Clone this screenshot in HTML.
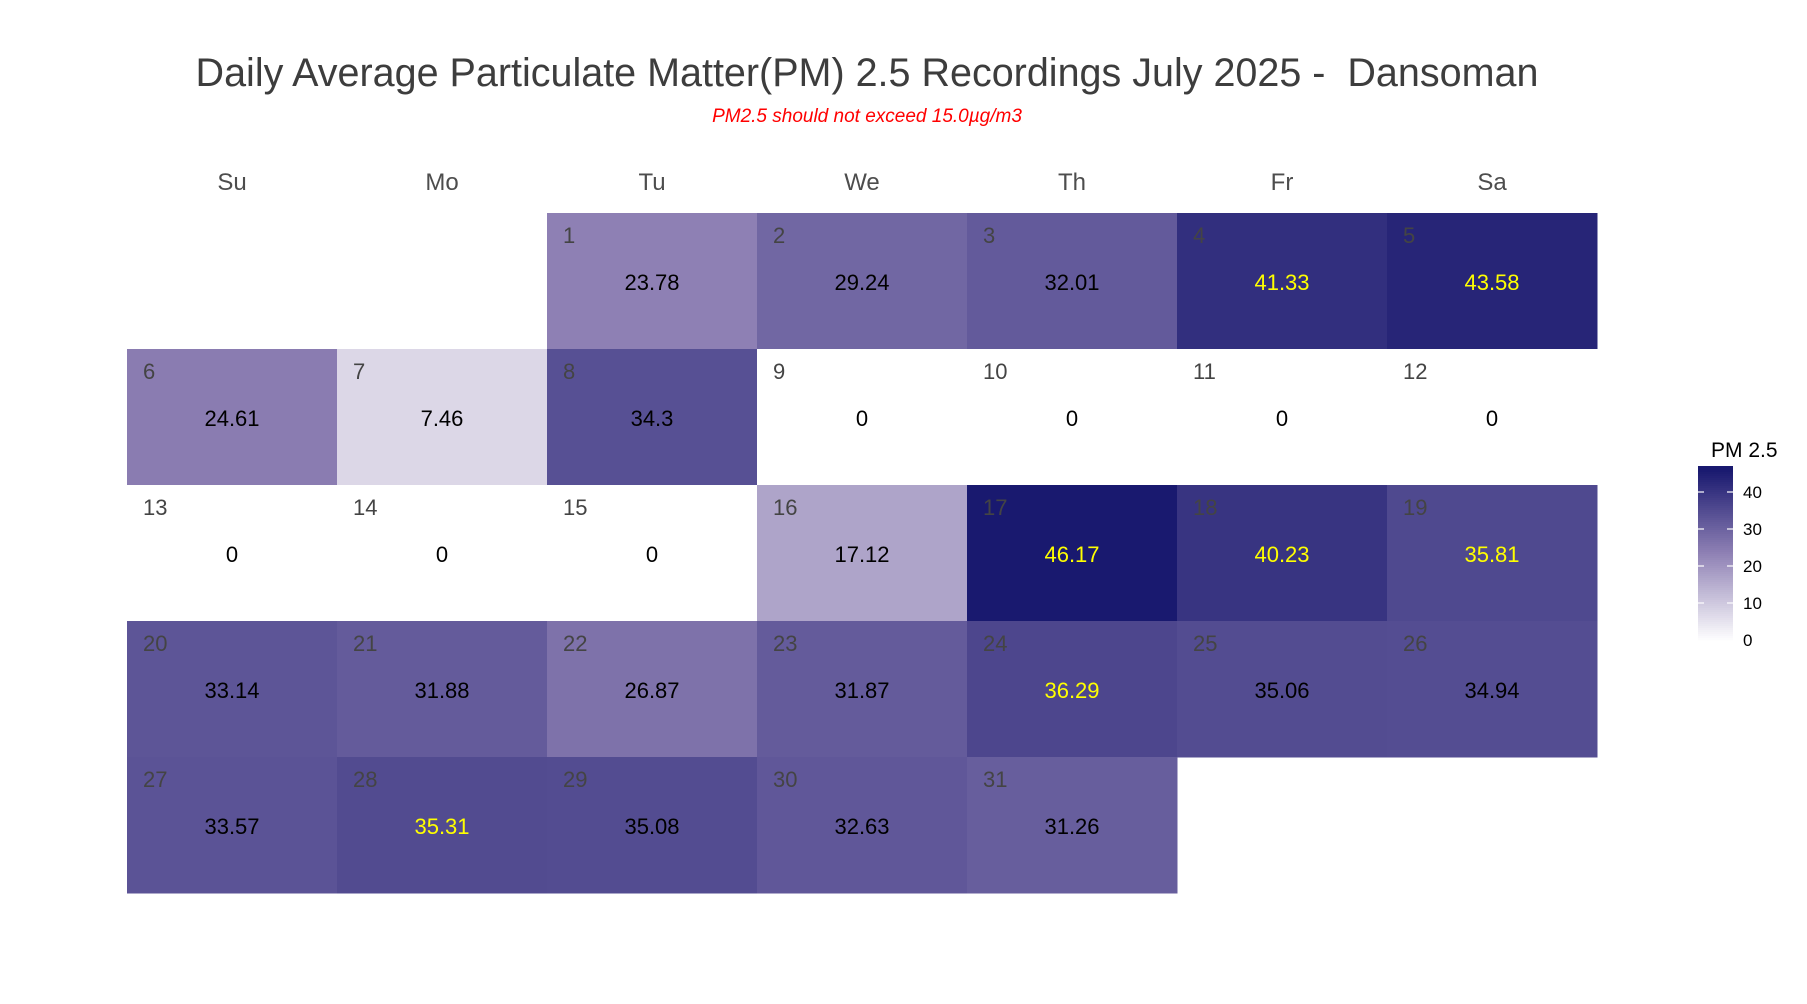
<!DOCTYPE html>
<html><head><meta charset="utf-8"><style>
body{margin:0;background:#fff;}
svg text{font-family:"Liberation Sans",sans-serif;}
</style></head><body>
<svg id="chart" width="1807" height="999" xmlns="http://www.w3.org/2000/svg">
<text x="867" y="86" text-anchor="middle" font-size="39.5" fill="#3d3d3d">Daily Average Particulate Matter(PM) 2.5 Recordings July 2025 -&#160; Dansoman</text>
<text x="867" y="122" text-anchor="middle" font-size="19" font-style="italic" fill="#ff0000">PM2.5 should not exceed 15.0µg/m3</text>
<g id="grid"></g>
<g id="legend"></g>
</svg>
<script>
const weekdays = ["Su","Mo","Tu","We","Th","Fr","Sa"];
const days = [1,2,3,4,5,6,7,8,9,10,11,12,13,14,15,16,17,18,19,20,21,22,23,24,25,26,27,28,29,30,31];
const values = [23.78,29.24,32.01,41.33,43.58,24.61,7.46,34.3,0,0,0,0,0,0,0,17.12,46.17,40.23,35.81,33.14,31.88,26.87,31.87,36.29,35.06,34.94,33.57,35.31,35.08,32.63,31.26];
const legendTicks = [0,10,20,30,40];
const firstWeekday = 2;

(function(){
const NS="http://www.w3.org/2000/svg";
const gridLeft=127, gridTop=213, colW=210, rowH=136;
const vmax=Math.max(...values);
function lerp(a,b,t){return a.map((v,i)=>Math.round(v+(b[i]-v)*t));}
function color(v){
  const c0=[255,255,255], c1=[142,128,180], c2=[25,25,111], mid=23.78;
  let c = v<=mid ? lerp(c0,c1,v/mid) : lerp(c1,c2,Math.min(1,(v-mid)/(vmax-mid)));
  return `rgb(${c[0]},${c[1]},${c[2]})`;
}
function mk(tag,attrs,parent,txt){const e=document.createElementNS(NS,tag);for(const k in attrs)e.setAttribute(k,attrs[k]);if(txt!==undefined)e.textContent=txt;parent.appendChild(e);return e;}
const g=document.getElementById('grid');
weekdays.forEach((w,i)=>{
  const t=mk('text',{x:gridLeft+colW*i+colW/2,y:190,'text-anchor':'middle','font-size':24,fill:'#4d4d4d'},g,w);
  
  
});
days.forEach((d,i)=>{
  const pos=firstWeekday+i, col=pos%7, row=Math.floor(pos/7);
  const x=gridLeft+col*colW, y=gridTop+row*rowH, v=values[i];
  const r=mk('rect',{x:x,y:y,width:colW+0.5,height:rowH+0.5,fill:color(v)},g);
  
  
  const n=mk('text',{x:x+16,y:y+30,'font-size':22,fill:'#444'},g,String(d));
  
  
  const vt=mk('text',{x:x+colW/2,y:y+77,'text-anchor':'middle','font-size':22,fill:v>35.3?'#ffff00':'#000'},g,String(v));
  
  
});
const L=document.getElementById('legend');
const lx=1698, lw=35, y0=640, pxPer=3.7, ltop=466;
const lt=mk('text',{x:1711,y:457,'font-size':21,fill:'#000'},L,'PM 2.5');


for(let y=ltop;y<y0;y+=2){
  const v=(y0-y)/pxPer;
  const s=mk('rect',{x:lx,y:y,width:lw,height:2.2,fill:color(Math.max(0,v))},L);
  
  
}
legendTicks.forEach(t=>{
  const y=y0-t*pxPer;
  if(t>0){
    const a=mk('line',{x1:lx,x2:lx+6,y1:y,y2:y,stroke:'#fff','stroke-width':1.2},L);
    
    
    const b=mk('line',{x1:lx+lw-6,x2:lx+lw,y1:y,y2:y,stroke:'#fff','stroke-width':1.2},L);
    
    
  }
  const tx=mk('text',{x:1743,y:y+6,'font-size':17,fill:'#000'},L,String(t));
  
  
});
})();
</script>
</body></html>
